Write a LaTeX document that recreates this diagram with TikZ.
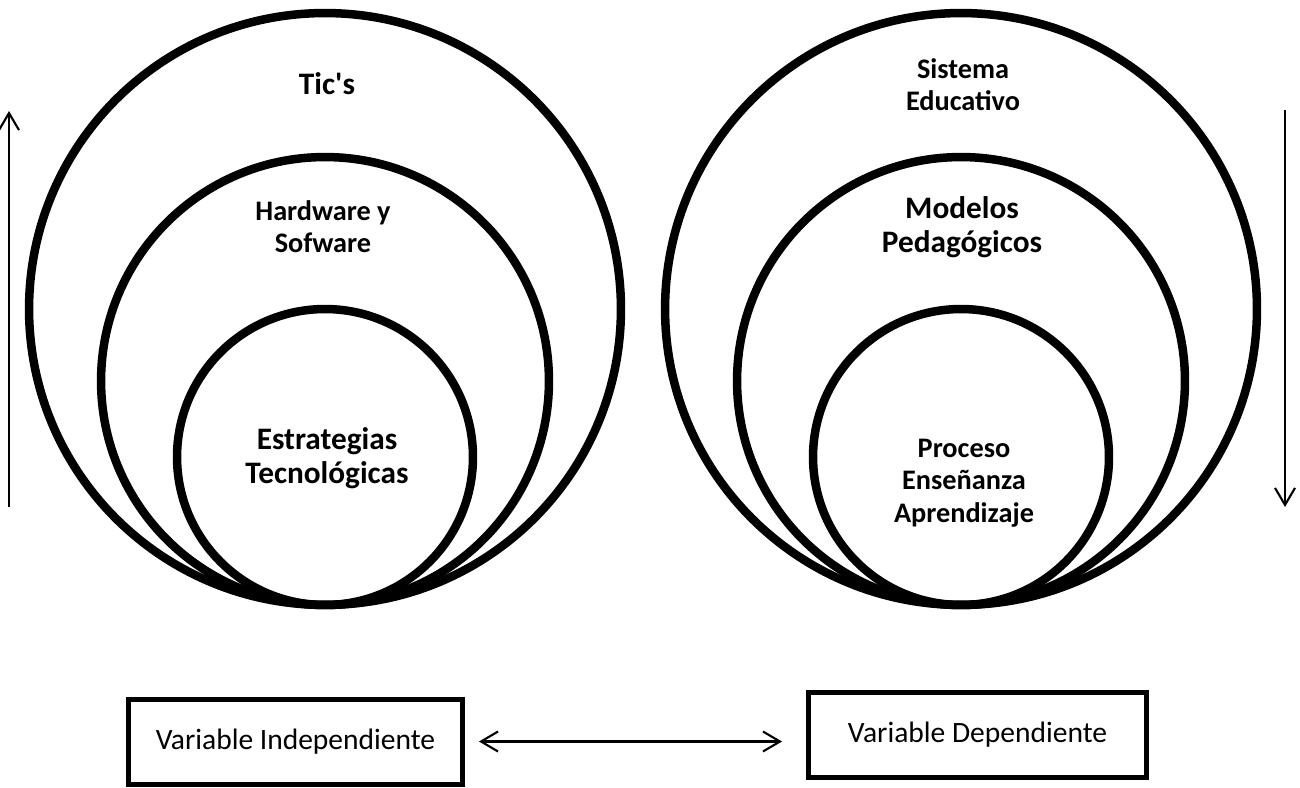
\documentclass[tikz,border=0pt]{standalone}
\usepackage{fontspec}
\setmainfont{Carlito}
\usetikzlibrary{arrows.meta}
\tikzset{
  ring/.style={circle, draw, line width=0.17cm, minimum size=#1, inner sep=0pt},
  bigtxt/.style={font=\bfseries\fontsize{17.8}{19.4}\selectfont, align=center},
  smalltxt/.style={font=\bfseries\fontsize{16.1}{18.4}\selectfont, align=center},
  varbox/.style={draw, line width=0.1cm, minimum height=1.7cm, font=\fontsize{16.8}{18}\selectfont},
  flow/.style={line width=1.2pt, -{Straight Barb[length=0.34cm,width=0.4cm]}}
}
\begin{document}
\begin{tikzpicture}[x=0.02cm, y=-0.02cm]
\useasboundingbox (0,0) rectangle (1300,787);
%%% The circles of the independent variable
\node[ring=11.84cm] (tics) at (325,309) {};
\node[ring=8.96cm] (hard) at (325,381) {};
\node[ring=5.92cm] (estr) at (325,457) {};
\node[bigtxt] (ticsT) at (327,84) {Tic\textquotesingle s};
\node[smalltxt] (hardT) at (323,227) {Hardware y\\Sofware};
\node[bigtxt] (estrT) at (327,458) {Estrategias\\Tecnológicas};
%%% The circles of the dependent variable
\node[ring=11.84cm] (sis) at (961,309) {};
\node[ring=8.96cm] (mod) at (961,381) {};
\node[ring=5.92cm] (proc) at (961,457) {};
\node[smalltxt] (sisT) at (963,85) {Sistema\\Educativo};
\node[bigtxt] (modT) at (962,227) {Modelos\\Pedagógicos};
\node[smalltxt] (procT) at (964,483) {Proceso\\Enseñanza\\Aprendizaje};
%%% The arrows at both sides
\coordinate (upA) at (9,507);
\coordinate (upB) at (9,111);
\coordinate (downA) at (1285,110);
\coordinate (downB) at (1285,507);
\draw[flow] (upA) -- (upB);
\draw[flow] (downA) -- (downB);
%%% The boxes of the two variables
\node[varbox, minimum width=6.7cm] (indep) at (295.5,741.5) {Variable Independiente};
\node[varbox, minimum width=6.78cm] (dep) at (977.5,735) {Variable Dependiente};
\draw[flow, {Straight Barb[length=0.34cm,width=0.4cm]}-{Straight Barb[length=0.34cm,width=0.4cm]}, shorten <=0.27cm, shorten >=0.47cm] (indep.east) -- (indep.east -| dep.west);
\end{tikzpicture}
\end{document}
